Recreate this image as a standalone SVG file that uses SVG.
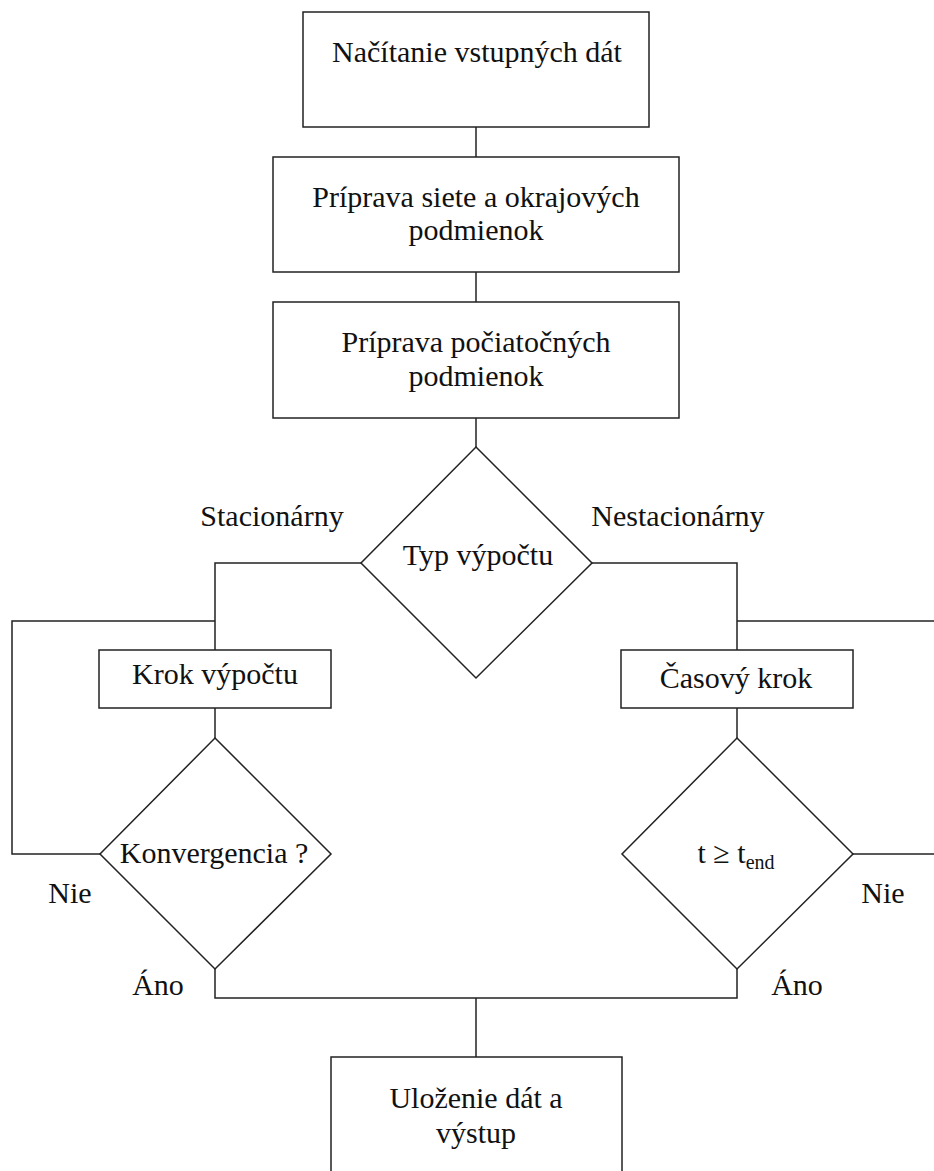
<svg xmlns="http://www.w3.org/2000/svg" width="934" height="1171" viewBox="0 0 934 1171">
<style>
.n{fill:#fff;stroke:#222;stroke-width:1.5}
.c{fill:none;stroke:#222;stroke-width:1.5}
text{font-family:'Liberation Serif','Times New Roman',serif;font-size:30px;fill:#111}
.m{text-anchor:middle}
</style>
<rect width="934" height="1171" fill="#fff"/>
<g id="connectors">
<path class="c" d="M476 127V157"/>
<path class="c" d="M476 272V302"/>
<path class="c" d="M476 418V447"/>
<path class="c" d="M361 563H215V650"/>
<path class="c" d="M592 563H737V650"/>
<path class="c" d="M215 708V738"/>
<path class="c" d="M737 708V738"/>
<path class="c" d="M100 854H12V621H215"/>
<path class="c" d="M853 854H934"/>
<path class="c" d="M934 621H737"/>
<path class="c" d="M215 969V998H737V969"/>
<path class="c" d="M476 998V1057"/>
<text x="272" y="526" class="m">Stacionárny</text>
<text x="678" y="526" class="m">Nestacionárny</text>
<text x="70" y="903" class="m">Nie</text>
<text x="883" y="903" class="m">Nie</text>
<text x="158" y="995" class="m">Áno</text>
<text x="797" y="995" class="m">Áno</text>
</g>
<g id="n1">
<rect class="n" x="303" y="12" width="346" height="115"/>
<text x="477" y="62" class="m">Načítanie vstupných dát</text>
</g>
<g id="n2">
<rect class="n" x="273" y="157" width="406" height="115"/>
<text x="476" y="207" class="m">Príprava siete a okrajových</text>
<text x="476" y="240" class="m">podmienok</text>
</g>
<g id="n3">
<rect class="n" x="273" y="302" width="406" height="116"/>
<text x="476" y="352" class="m">Príprava počiatočných</text>
<text x="476" y="386" class="m">podmienok</text>
</g>
<g id="d1">
<polygon class="n" points="476,447 592,563 476,678 361,563"/>
<text x="478" y="565" class="m">Typ výpočtu</text>
</g>
<g id="n4">
<rect class="n" x="99" y="650" width="232" height="58"/>
<text x="215" y="684" class="m">Krok výpočtu</text>
</g>
<g id="n5">
<rect class="n" x="621" y="650" width="232" height="58"/>
<text x="736" y="688" class="m">Časový krok</text>
</g>
<g id="d2">
<polygon class="n" points="215,738 331,854 215,969 100,854"/>
<text x="214" y="863" class="m">Konvergencia ?</text>
</g>
<g id="d3">
<polygon class="n" points="737,738 853,854 737,969 622,854"/>
<text x="736" y="863" class="m">t ≥ t<tspan font-size="20" dy="6">end</tspan></text>
</g>
<g id="n6">
<rect class="n" x="331" y="1057" width="291" height="130"/>
<text x="476" y="1108" class="m">Uloženie dát a</text>
<text x="476" y="1143" class="m">výstup</text>
</g>
</svg>
